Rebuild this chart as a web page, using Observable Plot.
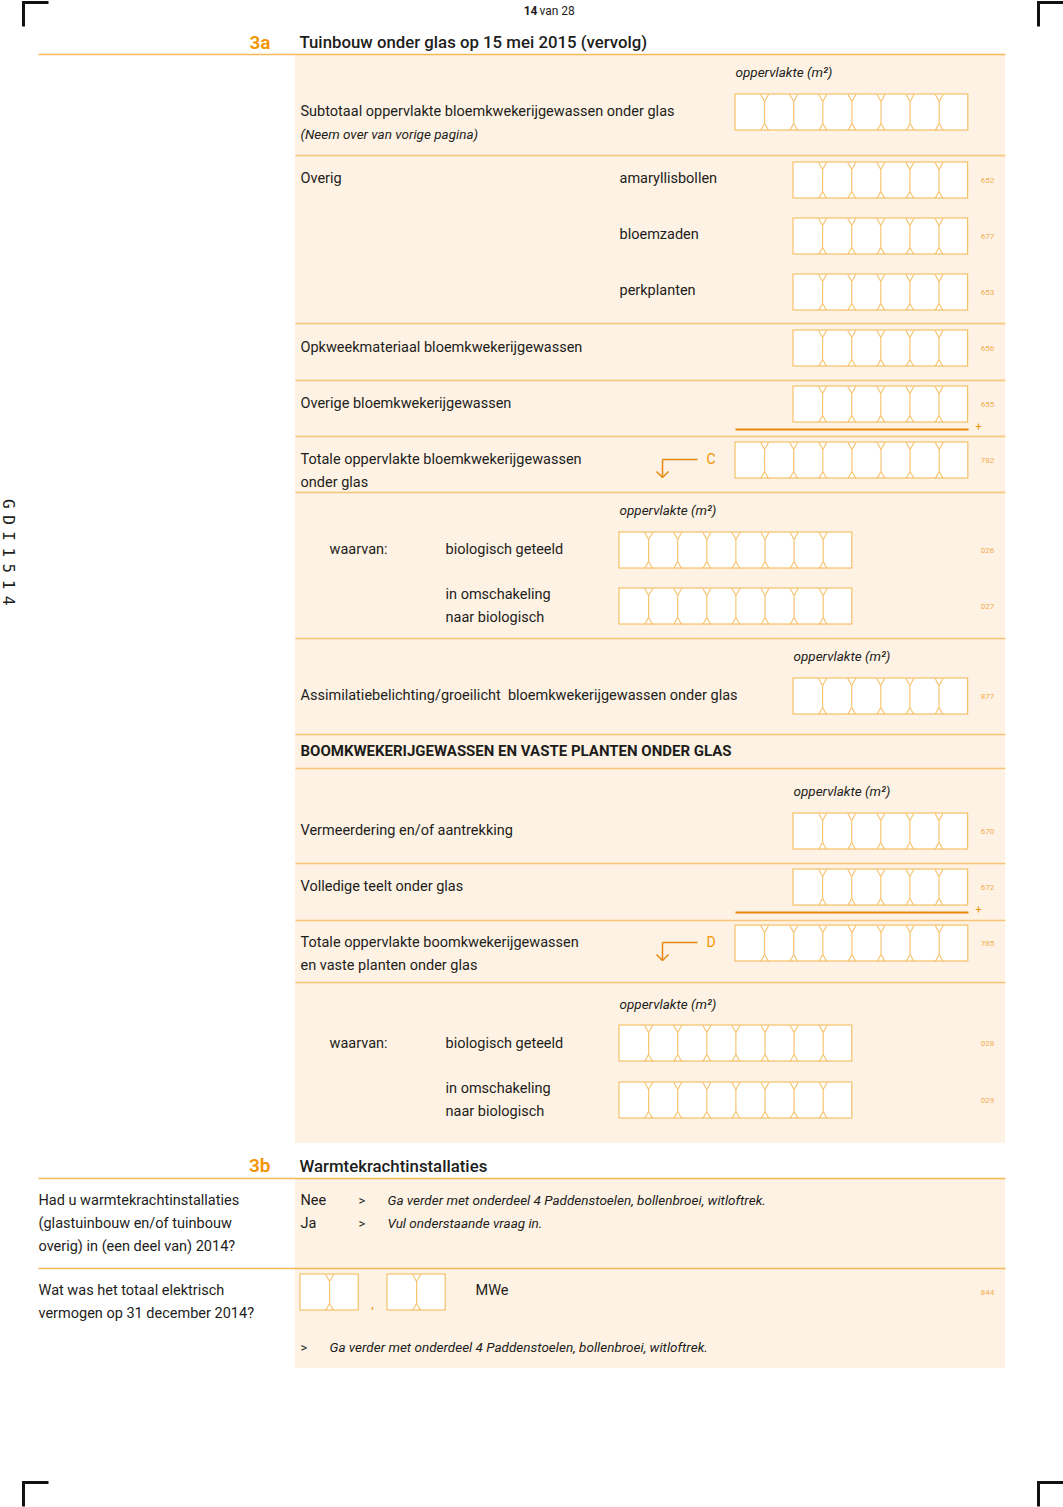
<!DOCTYPE html>
<html><head><meta charset="utf-8">
<script src="https://cdn.jsdelivr.net/npm/d3@7"></script>
<script src="https://cdn.jsdelivr.net/npm/@observablehq/plot@0.6"></script>
<style>
body{margin:0;background:#fff;}
#chart svg{display:block;}
.lbl text{letter-spacing:0px}
.it text{letter-spacing:0px}
.side text{letter-spacing:6.5px}
</style></head><body><div id="chart"></div>
<script>
// ---- content (texts, codes, cell counts) ----
const pageNumber = "14";
const pageTotal = "van 28";
const sectionNumbers = ["3a", "3b"];
const sectionTitles = ["Tuinbouw onder glas op 15 mei 2015 (vervolg)", "Warmtekrachtinstallaties"];
const sideCode = "GDI1514";

const mainLabels = ["Subtotaal oppervlakte bloemkwekerijgewassen onder glas", "Overig", "Opkweekmateriaal bloemkwekerijgewassen",
  "Overige bloemkwekerijgewassen", "Totale oppervlakte bloemkwekerijgewassen", "onder glas",
  "Assimilatiebelichting/groeilicht  bloemkwekerijgewassen onder glas", "Vermeerdering en/of aantrekking",
  "Volledige teelt onder glas", "Totale oppervlakte boomkwekerijgewassen", "en vaste planten onder glas", "Nee", "Ja"];
const subLabels = ["amaryllisbollen", "bloemzaden", "perkplanten"];
const waarvanLabels = ["biologisch geteeld", "in omschakeling", "naar biologisch"];
const headingBoom = "BOOMKWEKERIJGEWASSEN EN VASTE PLANTEN ONDER GLAS";
const unitLabel = "oppervlakte (m²)";
const noteLabel = "(Neem over van vorige pagina)";
const gotoText = "Ga verder met onderdeel 4 Paddenstoelen, bollenbroei, witloftrek.";
const fillText = "Vul onderstaande vraag in.";
const leftQuestions = ["Had u warmtekrachtinstallaties", "(glastuinbouw en/of tuinbouw", "overig) in (een deel van) 2014?",
  "Wat was het totaal elektrisch", "vermogen op 31 december 2014?"];
const fieldCodes = ["", "652", "677", "653", "656", "655", "782", "026", "027", "877", "670", "672", "785", "028", "029", "844"];
const fieldCells = [8, 6, 6, 6, 6, 6, 8, 8, 8, 6, 6, 6, 8, 8, 8, 2];
const totalLetters = ["C", "D"];

// ---- layout ----
const W = 1063, Hh = 1507;
const orange = "#f29400", dark = "#1d1d1b", cream = "#fdf2e3", boxStroke = "#f6c068", sep = "#f8c67a", sumC = "#e8870e", codeC = "#f3ad4f";
const CW = 29.1, CH = 36;
const fieldX = [735, 793, 793, 793, 793, 793, 735, 619, 619, 793, 793, 793, 735, 619, 619, 300];
const fieldY = [94, 162, 218, 274, 330, 386, 442, 532, 588, 678, 813, 869, 925, 1025, 1082, 1274];
const codeX = 987;

const groups = fieldCells.map((n, i) => ({x1: fieldX[i], x2: fieldX[i] + n * CW, y1: fieldY[i], y2: fieldY[i] + CH, n, code: fieldCodes[i]}));
groups.push({x1: 387, x2: 387 + 2 * CW, y1: 1274, y2: 1274 + CH, n: 2, code: ""});
const notches = [];
groups.forEach(g => {
  for (let k = 1; k < g.n; k++) {
    const b = g.x1 + k * CW, t = g.y1, bt = g.y2;
    notches.push({x1: b - 4, y1: t, x2: b, y2: t + 7}, {x1: b + 4, y1: t, x2: b, y2: t + 7},
      {x1: b, y1: t + 7, x2: b, y2: bt - 7},
      {x1: b - 4, y1: bt, x2: b, y2: bt - 7}, {x1: b + 4, y1: bt, x2: b, y2: bt - 7});
  }
});
const codes = groups.filter(g => g.code).map(g => ({x: codeX, y: (g.y1 + g.y2) / 2, t: g.code}));

const panels = [{x1: 295, x2: 1005, y1: 55, y2: 1143}, {x1: 295, x2: 1005, y1: 1179, y2: 1368}];
const sepYs = [155, 323, 380, 436, 492, 638, 734, 768, 863, 920, 982];
const seps = sepYs.map(y => ({x1: 295, x2: 1005, y}));
const fullSeps = [54, 1178, 1268].map(y => ({x1: 38, x2: 1005, y}));
const sums = [429, 912].map(y => ({x1: 735, x2: 968, y}));

const mainY = [111, 178, 347, 403, 459, 482, 695, 830, 886, 942, 965, 1200, 1223];
const mainT = mainLabels.map((t, i) => ({x: 300, y: mainY[i], t}));
const subT = subLabels.map((t, i) => ({x: 619, y: [178, 234, 290][i], t}));
const waarvan = [549, 1043].flatMap((y0, j) => [
  {x: 329, y: y0, t: "waarvan:"},
  {x: 445, y: y0, t: waarvanLabels[0]},
  {x: 445, y: y0 + 45, t: waarvanLabels[1]},
  {x: 445, y: y0 + 68, t: waarvanLabels[2]}]);
const unitT = [[735, 72], [619, 510], [793, 656], [793, 791], [619, 1004]].map(([x, y]) => ({x, y, t: unitLabel}));
const leftT = leftQuestions.map((t, i) => ({x: 38, y: [1200, 1223, 1246, 1290, 1313][i], t}));
const italT = [{x: 300, y: 134, t: noteLabel}, {x: 387, y: 1200, t: gotoText}, {x: 387, y: 1223, t: fillText}, {x: 329, y: 1347, t: gotoText}];
const gtT = [{x: 358, y: 1200}, {x: 358, y: 1223}, {x: 300, y: 1347}].map(d => ({...d, t: ">"}));

// arrows for totals
const arrowRows = [459, 942];
const arrows = arrowRows.flatMap(y => [
  {x1: 697, y1: y, x2: 662, y2: y}, {x1: 662, y1: y, x2: 662, y2: y + 18},
  {x1: 656, y1: y + 12, x2: 662, y2: y + 18}, {x1: 668, y1: y + 12, x2: 662, y2: y + 18}]);
const letterT = totalLetters.map((t, i) => ({x: 706, y: arrowRows[i], t}));

// corner marks (all open to the lower right)
const corners = [];
[[23, 2], [1038, 2], [23, 1482], [1038, 1482]].forEach(([x, y]) => {
  corners.push({x1: x - 1.5, y1: y, x2: x + 25, y2: y}, {x1: x, y1: y, x2: x, y2: y + 24});
});

const fontF = "Roboto, 'Open Sans', sans-serif";
const plot = Plot.plot({
  width: W, height: Hh, margin: 0,
  x: {domain: [0, W], range: [0, W], axis: null},
  y: {domain: [0, Hh], range: [0, Hh], axis: null},
  style: {fontFamily: fontF, background: "#fff"},
  marks: [
    Plot.rect(panels, {x1: "x1", x2: "x2", y1: "y1", y2: "y2", fill: cream}),
    Plot.link(seps, {x1: "x1", x2: "x2", y1: "y", y2: "y", stroke: sep, strokeWidth: 1.3}),
    Plot.link(fullSeps, {x1: "x1", x2: "x2", y1: "y", y2: "y", stroke: "#f6b957", strokeWidth: 1.3}),
    Plot.link(sums, {x1: "x1", x2: "x2", y1: "y", y2: "y", stroke: sumC, strokeWidth: 2}),
    Plot.rect(groups, {x1: "x1", x2: "x2", y1: "y1", y2: "y2", fill: "#fff", stroke: boxStroke, strokeWidth: 1.2}),
    Plot.link(notches, {x1: "x1", x2: "x2", y1: "y1", y2: "y2", stroke: boxStroke, strokeWidth: 1.1}),
    Plot.link(arrows, {x1: "x1", x2: "x2", y1: "y1", y2: "y2", stroke: sumC, strokeWidth: 1.5}),
    Plot.link(corners, {x1: "x1", x2: "x2", y1: "y1", y2: "y2", stroke: "#111", strokeWidth: 3}),
    Plot.text(letterT, {x: "x", y: "y", text: "t", textAnchor: "start", fill: orange, fontSize: 14}),
    Plot.text(sums, {x: d => d.x2 + 10, y: d => d.y - 3, text: () => "+", fill: orange, fontSize: 11}),
    Plot.text(codes, {x: "x", y: "y", text: "t", fill: codeC, fontSize: 8}),
    Plot.text([{x: 1, t: pageNumber}], {x: 537, y: 11, text: "t", textAnchor: "end", fill: dark, fontSize: 12, fontWeight: 700}),
    Plot.text([{x: 1, t: pageTotal}], {x: 539, y: 11, text: "t", textAnchor: "start", fill: dark, fontSize: 12}),
    Plot.text(sectionNumbers.map((t, i) => ({t, y: [42, 1165][i]})), {x: 270, y: "y", text: "t", textAnchor: "end", fill: orange, fontSize: 19, fontWeight: 600}),
    Plot.text(sectionTitles.map((t, i) => ({t, y: [42, 1166][i]})), {x: 299, y: "y", text: "t", textAnchor: "start", fill: dark, fontSize: 16.8, fontWeight: 500, className: "lbl"}),
    Plot.text([sideCode], {x: 8, y: 555, text: d => d, rotate: 90, fill: dark, fontSize: 16, fontFamily: "DejaVu Sans Mono", className: "side"}),
    Plot.text(mainT, {x: "x", y: "y", text: "t", textAnchor: "start", fill: dark, fontSize: 14.5, className: "lbl"}),
    Plot.text(subT, {x: "x", y: "y", text: "t", textAnchor: "start", fill: dark, fontSize: 14.5, className: "lbl"}),
    Plot.text(waarvan, {x: "x", y: "y", text: "t", textAnchor: "start", fill: dark, fontSize: 14.5, className: "lbl"}),
    Plot.text(leftT, {x: "x", y: "y", text: "t", textAnchor: "start", fill: dark, fontSize: 14.5, className: "lbl"}),
    Plot.text([headingBoom], {x: 300, y: 751, text: d => d, textAnchor: "start", fill: dark, fontSize: 15, fontWeight: 700, className: "lbl"}),
    Plot.text(unitT, {x: "x", y: "y", text: "t", textAnchor: "start", fill: dark, fontSize: 13.5, fontStyle: "italic", className: "it"}),
    Plot.text(italT, {x: "x", y: "y", text: "t", textAnchor: "start", fill: dark, fontSize: 13.5, fontStyle: "italic", className: "it"}),
    Plot.text(gtT, {x: "x", y: "y", text: "t", textAnchor: "start", fill: dark, fontSize: 13}),
    Plot.text([{t: "MWe"}], {x: 475, y: 1290, text: "t", textAnchor: "start", fill: dark, fontSize: 14.5}),
    Plot.text([{t: ","}], {x: 372, y: 1303, text: "t", fill: orange, fontSize: 13})
  ]
});
document.getElementById("chart").append(plot);
</script></body></html>
